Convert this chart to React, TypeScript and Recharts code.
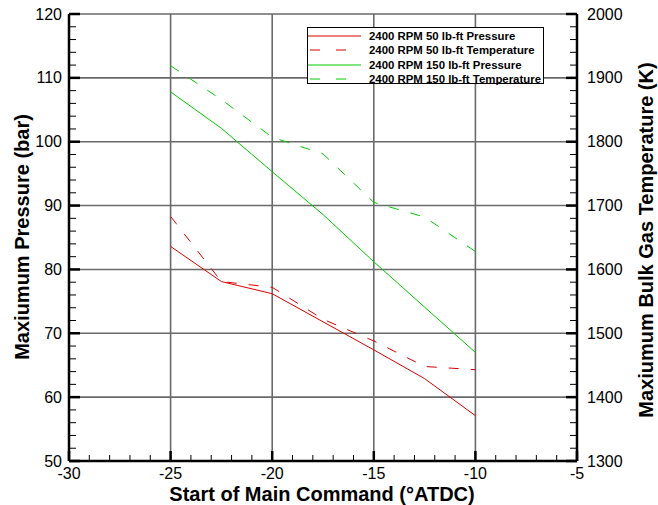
import React from 'react';
import { LineChart, Line, XAxis, YAxis, CartesianGrid } from 'recharts';

// start of main command, degrees ATDC
const timing = [-25, -22.5, -20, -17.5, -15, -12.5, -10];
// max pressure (bar)
const pressure50 = [83.6, 78.1, 76.2, 71.8, 67.4, 62.9, 57.1];
const pressure150 = [107.8, 102.1, 95.3, 88.6, 81.2, 74.1, 67.0];
// max bulk gas temperature (K)
const temp50 = [1683, 1581, 1572, 1522, 1488, 1448, 1443];
const temp150 = [1919, 1866, 1807, 1781, 1705, 1682, 1628];

const xTicks = [-30, -29, -28, -27, -26, -25, -24, -23, -22, -21, -20, -19, -18, -17, -16, -15, -14, -13, -12, -11, -10, -9, -8, -7, -6, -5];
const xMajor = [-30, -25, -20, -15, -10, -5];
const pTicks = [50, 52, 54, 56, 58, 60, 62, 64, 66, 68, 70, 72, 74, 76, 78, 80, 82, 84, 86, 88, 90, 92, 94, 96, 98, 100, 102, 104, 106, 108, 110, 112, 114, 116, 118, 120];
const pMajor = [50, 60, 70, 80, 90, 100, 110, 120];
const tTicks = [1300, 1320, 1340, 1360, 1380, 1400, 1420, 1440, 1460, 1480, 1500, 1520, 1540, 1560, 1580, 1600, 1620, 1640, 1660, 1680, 1700, 1720, 1740, 1760, 1780, 1800, 1820, 1840, 1860, 1880, 1900, 1920, 1940, 1960, 1980, 2000];
const tMajor = [1300, 1400, 1500, 1600, 1700, 1800, 1900, 2000];

const series = [
  { key: 'p50', name: '2400 RPM 50 lb-ft Pressure', color: '#dd0000', dashed: false, axis: 'p' },
  { key: 't50', name: '2400 RPM 50 lb-ft Temperature', color: '#dd0000', dashed: true, axis: 't' },
  { key: 'p150', name: '2400 RPM 150 lb-ft Pressure', color: '#00cc00', dashed: false, axis: 'p' },
  { key: 't150', name: '2400 RPM 150 lb-ft Temperature', color: '#00cc00', dashed: true, axis: 't' },
];

const data = timing.map((x, i) => ({
  x,
  p50: pressure50[i],
  t50: temp50[i],
  p150: pressure150[i],
  t150: temp150[i],
}));

const FONT = '"Liberation Sans", Arial, sans-serif';
const DASH = '10 12';

const XTick = (props: any) => {
  const { x, y, payload } = props;
  const major = xMajor.includes(payload.value);
  return (
    <g>
      <line x1={x} x2={x} y1={y} y2={y - (major ? 10 : 6)} stroke="#000" strokeWidth={major ? 2.5 : 1} />
      {major && (
        <text x={x} y={y + 12} textAnchor="middle" dominantBaseline="central" fontSize={16} fontFamily={FONT} fill="#000">
          {payload.value}
        </text>
      )}
    </g>
  );
};

const LeftTick = (props: any) => {
  const { x, y, payload } = props;
  const major = pMajor.includes(payload.value);
  return (
    <g>
      <line x1={x} x2={x + (major ? 11 : 7)} y1={y} y2={y} stroke="#000" strokeWidth={major ? 2.5 : 1} />
      {major && (
        <text x={x - 7} y={y} textAnchor="end" dominantBaseline="central" fontSize={16} fontFamily={FONT} fill="#000">
          {payload.value}
        </text>
      )}
    </g>
  );
};

const RightTick = (props: any) => {
  const { x, y, payload } = props;
  const major = tMajor.includes(payload.value);
  return (
    <g>
      <line x1={x} x2={x - (major ? 11 : 7)} y1={y} y2={y} stroke="#000" strokeWidth={major ? 2.5 : 1} />
      {major && (
        <text x={x + 10} y={y} textAnchor="start" dominantBaseline="central" fontSize={16} fontFamily={FONT} fill="#000">
          {payload.value}
        </text>
      )}
    </g>
  );
};

const titleStyle = { fontSize: 20, fontWeight: 'bold' as const, fontFamily: FONT, fill: '#000' };

export default function App() {
  return (
    <div style={{ position: 'relative', width: 658, height: 505, background: '#fff' }}>
      <style>{'body{margin:0;}'}</style>
      <LineChart width={658} height={505} data={data} margin={{ top: 14, right: 0, bottom: 0, left: 0 }}>
        <CartesianGrid
          stroke="#6a6a6a"
          strokeWidth={1.6}
          horizontalValues={pMajor}
          verticalValues={xMajor}
          yAxisId="p"
        />
        <XAxis
          dataKey="x"
          type="number"
          domain={[-30, -5]}
          ticks={xTicks}
          interval={0}
          height={44}
          tickSize={0}
          tickMargin={0}
          tickLine={false}
          axisLine={{ stroke: '#000', strokeWidth: 2.5 }}
          tick={<XTick />}
          label={{
            content: () => (
              <text x={322} y={494} textAnchor="middle" dominantBaseline="central" style={titleStyle}>
                Start of Main Command (°ATDC)
              </text>
            ),
          }}
        />
        <YAxis
          yAxisId="p"
          orientation="left"
          type="number"
          domain={[50, 120]}
          ticks={pTicks}
          interval={0}
          width={69}
          tickSize={0}
          tickMargin={0}
          tickLine={false}
          axisLine={{ stroke: '#000', strokeWidth: 2.5 }}
          tick={<LeftTick />}
          label={{
            content: () => (
              <text x={22} y={237} transform="rotate(-90 22 237)" textAnchor="middle" dominantBaseline="central" style={titleStyle}>
                Maxiumum Pressure (bar)
              </text>
            ),
          }}
        />
        <YAxis
          yAxisId="t"
          orientation="right"
          type="number"
          domain={[1300, 2000]}
          ticks={tTicks}
          interval={0}
          width={81}
          tickSize={0}
          tickMargin={0}
          tickLine={false}
          axisLine={{ stroke: '#000', strokeWidth: 2.5 }}
          tick={<RightTick />}
          label={{
            content: () => (
              <text x={646} y={240} transform="rotate(-90 646 240)" textAnchor="middle" dominantBaseline="central" style={titleStyle}>
                Maxiumum Bulk Gas Temperature (K)
              </text>
            ),
          }}
        />
        {series.map((s) => (
          <Line
            key={s.key}
            yAxisId={s.axis}
            dataKey={s.key}
            name={s.name}
            type="linear"
            stroke={s.color}
            strokeWidth={1}
            strokeDasharray={s.dashed ? DASH : undefined}
            dot={false}
            activeDot={false}
            isAnimationActive={false}
          />
        ))}
      </LineChart>
      <div
        style={{
          position: 'absolute',
          left: 307,
          top: 27,
          width: 237,
          height: 57,
          border: '1px solid #000',
          background: '#fff',
          boxSizing: 'border-box',
        }}
      >
        {series.map((s, i) => (
          <div
            key={s.key}
            style={{
              position: 'absolute',
              left: 0,
              top: 1 + i * 14.4,
              height: 14,
              display: 'flex',
              alignItems: 'center',
              whiteSpace: 'nowrap',
            }}
          >
            <svg width={53} height={14} style={{ display: 'block' }}>
              <line
                x1={0}
                x2={53}
                y1={7}
                y2={7}
                stroke={s.color}
                strokeWidth={1}
                strokeDasharray={s.dashed ? '0 2 10 14' : undefined}
              />
            </svg>
            <span style={{ marginLeft: 8, fontFamily: FONT, fontWeight: 'bold', fontSize: 11.4, color: '#000' }}>{s.name}</span>
          </div>
        ))}
      </div>
    </div>
  );
}
